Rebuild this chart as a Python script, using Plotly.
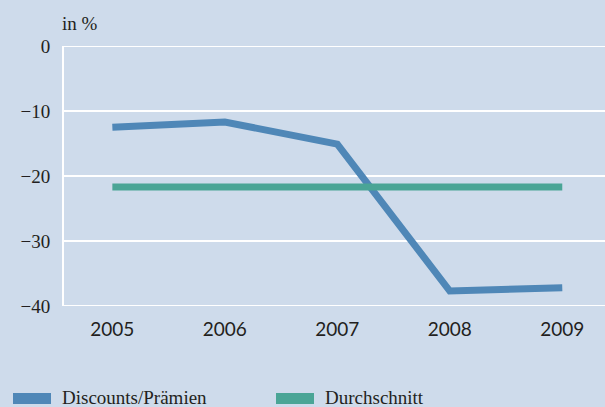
import plotly.graph_objects as go

years = [2005, 2006, 2007, 2008, 2009]
discounts = [-12.5, -11.7, -15.1, -37.7, -37.2]
average = [-21.7, -21.7, -21.7, -21.7, -21.7]
y_ticks = [0, -10, -20, -30, -40]
series_names = ["Discounts/Prämien", "Durchschnitt"]
colors = ["#4f87b7", "#4aa596"]
bg = "#cedbeb"

fig = go.Figure()
fig.add_trace(go.Scatter(x=years, y=discounts, mode="lines", name=series_names[0],
                         line=dict(color=colors[0], width=7), showlegend=False))
fig.add_trace(go.Scatter(x=years, y=average, mode="lines", name=series_names[1],
                         line=dict(color=colors[1], width=7), showlegend=False))

# edge gridlines (plotly drops gridlines sitting on the plot edges)
for yv in (y_ticks[0], y_ticks[-1]):
    fig.add_shape(type="line", xref="paper", yref="y", x0=0, x1=1, y0=yv, y1=yv,
                  line=dict(color="white", width=2), layer="below")

PW, PH = 541, 260
# legend drawn manually
leg_items = [(13, series_names[0], colors[0]), (276, series_names[1], colors[1])]
for px, name, col in leg_items:
    fig.add_shape(type="rect", xref="paper", yref="paper",
                  x0=(px - 64) / PW, x1=(px - 64 + 38) / PW,
                  y0=-(404 - 46 - PH) / PH, y1=-(393 - 46 - PH) / PH,
                  fillcolor=col, line=dict(width=0), layer="above")
    fig.add_annotation(xref="paper", yref="paper", x=(px - 64 + 47) / PW,
                       y=-(397 - 46 - PH) / PH,
                       text=name, showarrow=False, xanchor="left", yanchor="middle",
                       font=dict(family="Liberation Serif", size=19, color="#231f20"))

fig.add_annotation(xref="paper", yref="paper", x=-4 / PW, y=1 + 23 / PH, text="in %",
                   showarrow=False, xanchor="left", yanchor="middle",
                   font=dict(family="Liberation Serif", size=19, color="#231f20"))

fig.update_layout(
    width=605, height=407,
    margin=dict(l=64, r=0, t=46, b=101),
    paper_bgcolor=bg, plot_bgcolor=bg,
    showlegend=False,
    xaxis=dict(range=[2004.57, 2009.38], tickvals=years, ticktext=[str(y) for y in years],
               showgrid=False, zeroline=False, showline=False,
               ticks="", ticklabelstandoff=10,
               tickfont=dict(family="Lato", size=19, color="#231f20")),
    yaxis=dict(range=[-40, 0], tickvals=y_ticks, showgrid=True, gridcolor="white",
               gridwidth=2, zeroline=False, showline=True, linecolor="white", linewidth=2,
               ticks="", ticklabelstandoff=8,
               tickfont=dict(family="Liberation Serif", size=19, color="#231f20")),
)
fig.write_html("out.html", config={"displayModeBar": False},
               post_script="document.body.style.margin='0';")
